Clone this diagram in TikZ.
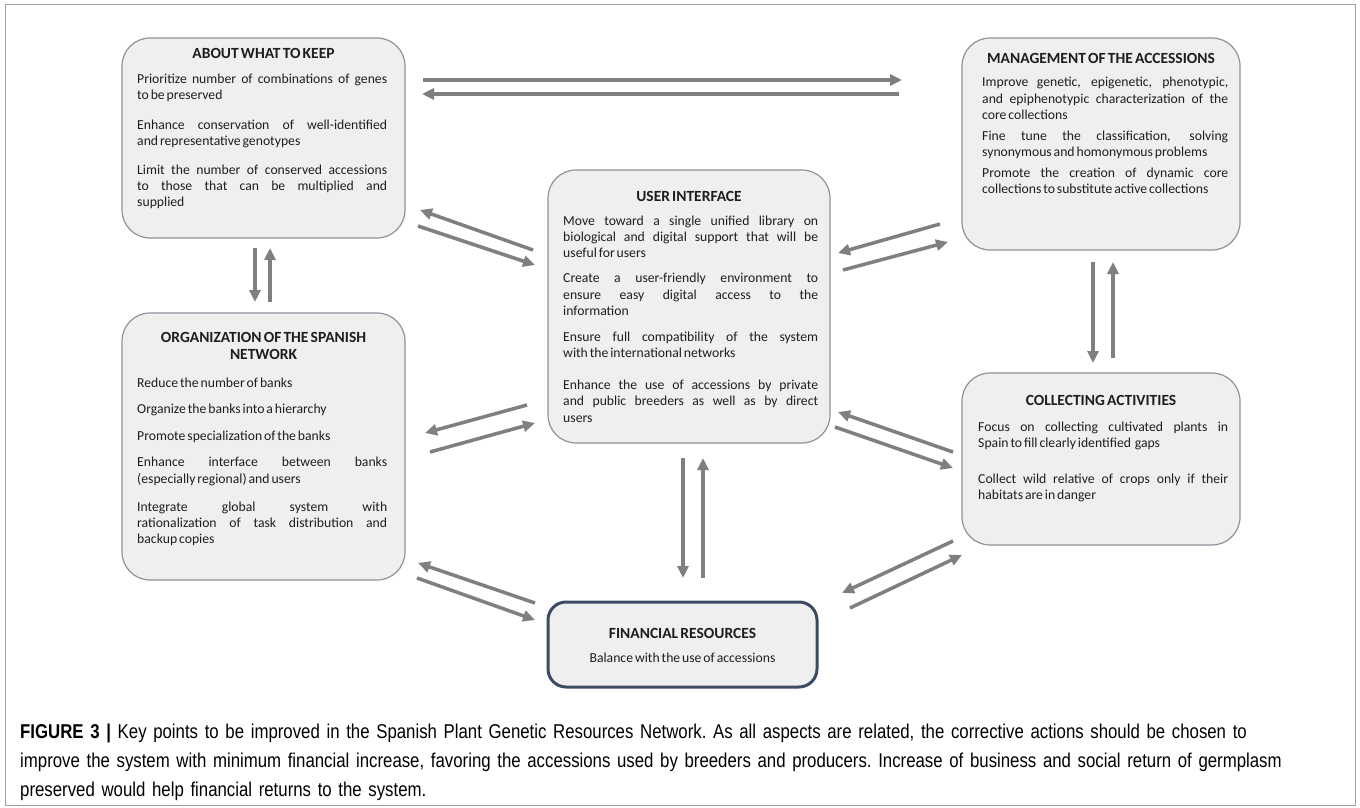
\documentclass[tikz,border=0pt]{standalone}
\usepackage{fontspec}
\setmainfont[WordSpace={0.62,2,1.2}]{Carlito}
\newfontfamily\capfont[FakeStretch=0.84]{Liberation Sans}
\usetikzlibrary{arrows.meta,calc}
\definecolor{boxfill}{HTML}{EFEFEF}
\definecolor{boxline}{HTML}{8C939C}
\definecolor{finline}{HTML}{3C4B63}
\definecolor{arrgray}{HTML}{7F7F7F}
\definecolor{txt}{HTML}{1E1E1E}
\definecolor{framegray}{HTML}{A0A0A0}
\newcommand{\pgap}[1]{\par\vspace{#1pt}}
\newcommand{\bodyset}{\hyphenpenalty=10000 \exhyphenpenalty=10000 \tolerance=10000 \relax}
\begin{document}
\begin{tikzpicture}[x=1pt,y=-1pt,
  box/.style={draw=boxline, fill=boxfill, rounded corners=28pt, line width=1.2pt, inner sep=0pt, outer sep=0pt},
  finbox/.style={box, draw=finline, line width=3pt, rounded corners=18pt},
  ttl/.style={font=\fontsize{15.5}{16.3}\selectfont\bfseries, text=txt, inner sep=0pt, align=center},
  body/.style={font=\fontsize{13.7}{16.3}\selectfont\bodyset, text=txt, inner sep=0pt, align=justify, anchor=base west},
  arr/.style={draw=arrgray, line width=3.5pt, -{Triangle[length=12pt,width=11pt]}}]
\useasboundingbox (0,0) rectangle (1360,808);
\fill[white] (0,0) rectangle (1360,808);
\draw[framegray, line width=1pt] (5,5) rectangle (1355,805);

% boxes
\node[box, minimum width=283pt, minimum height=200pt] (A) at (263.5,138) {};
\node[box, minimum width=278pt, minimum height=212pt] (M) at (1101,144) {};
\node[box, minimum width=282pt, minimum height=273pt] (U) at (689,306.5) {};
\node[box, minimum width=283pt, minimum height=267pt] (O) at (263.5,446.5) {};
\node[box, minimum width=278pt, minimum height=172pt] (C) at (1101,459) {};
\node[finbox, minimum width=269pt, minimum height=85pt] (F) at (682.5,644.5) {};

% titles
\node[ttl] (At) at (263.5,53) {ABOUT WHAT TO KEEP};
\node[ttl] (Mt) at (1101,58) {MANAGEMENT OF THE ACCESSIONS};
\node[ttl] (Ut) at (689,196) {USER INTERFACE};
\node[ttl] (Ot) at (263.5,346) {ORGANIZATION OF THE SPANISH\\NETWORK};
\node[ttl] (Ct) at (1101,400) {COLLECTING ACTIVITIES};
\node[ttl] (Ft) at (682.5,633) {FINANCIAL RESOURCES};

% bodies
\node[body, text width=250pt] (Ab) at (137,83) {Prioritize number of combinations of genes\linebreak to be preserved\pgap{13.5}
Enhance conservation of well-identified\linebreak and representative genotypes\pgap{12.5}
Limit the number of conserved accessions\linebreak to those that can be multiplied and\linebreak supplied};

\node[body, text width=246pt] (Mb) at (982,87) {Improve genetic, epigenetic, phenotypic,\linebreak and epiphenotypic characterization of the\linebreak core collections\pgap{4.5}
Fine tune the classification, solving\linebreak synonymous and homonymous problems\pgap{4.5}
Promote the creation of dynamic core\linebreak collections to substitute active collections};

\node[body, text width=255pt] (Ub) at (563,225) {Move toward a single unified library on\linebreak biological and digital support that will be\linebreak useful for users\pgap{9}
Create a user-friendly environment to\linebreak ensure easy digital access to the\linebreak information\pgap{9.5}
Ensure full compatibility of the system\linebreak with the international networks\pgap{15.5}
Enhance the use of accessions by private\linebreak and public breeders as well as by direct\linebreak users};

\node[body, text width=250pt] (Ob) at (137,387) {Reduce the number of banks\pgap{10.5}
Organize the banks into a hierarchy\pgap{10}
Promote specialization of the banks\pgap{10.5}
Enhance interface between banks\linebreak (especially regional) and users\pgap{11.5}
Integrate global system with\linebreak rationalization of task distribution and\linebreak backup copies};

\node[body, text width=250pt] (Cb) at (978,431) {Focus on collecting cultivated plants in\linebreak Spain to fill clearly identified\ \ gaps\pgap{19.5}
Collect wild relative of crops only if their\linebreak habitats are in danger};

\node[font=\fontsize{13.7}{16.3}\selectfont, text=txt, inner sep=0pt] (Fb) at (682.5,658) {Balance with the use of accessions};

% connectors
\draw[arr] ($(A.north east)+(18,42)$) -- ($(M.north west)+(-60,42)$);
\draw[arr] ($(M.north west)+(-63,56)$) -- ($(A.north east)+(17,56)$);
\draw[arr] ($(U.north west)+(-15,80)$) -- ($(A.south east)+(15,-28)$);
\draw[arr] ($(A.south east)+(13,-12)$) -- ($(U.north west)+(-13,95)$);
\draw[arr] ($(M.south west)+(-22,-26)$) -- ($(U.north east)+(8,83)$);
\draw[arr] ($(U.north east)+(13,100)$) -- ($(M.south west)+(-14,-8)$);
\draw[arr] ($(A.south)+(-8.5,10)$) -- ($(O.north)+(-8.5,-11)$);
\draw[arr] ($(O.north)+(6.5,-11)$) -- ($(A.south)+(6.5,10)$);
\draw[arr] ($(U.south west)+(-21,-38)$) -- ($(O.east)+(20,-13.5)$);
\draw[arr] ($(O.east)+(25,5.5)$) -- ($(U.south west)+(-13,-20)$);
\draw[arr] ($(M.south)+(-8,12)$) -- ($(C.north)+(-8,-10)$);
\draw[arr] ($(C.north)+(12,-15)$) -- ($(M.south)+(12,12)$);
\draw[arr] ($(C.west)+(-9,-7)$) -- ($(U.south east)+(8,-31)$);
\draw[arr] ($(U.south east)+(5,-16)$) -- ($(C.west)+(-9,9)$);
\draw[arr] ($(U.south)+(-6,15)$) -- ($(F.north)+(0.5,-24)$);
\draw[arr] ($(F.north)+(20.5,-24)$) -- ($(U.south)+(14,15)$);
\draw[arr] ($(F.north west)+(-13,1)$) -- ($(O.south east)+(13,-17)$);
\draw[arr] ($(O.south east)+(12,-2)$) -- ($(F.north west)+(-13,18)$);
\draw[arr] ($(C.south west)+(-9,-4)$) -- ($(F.north east)+(25,-9)$);
\draw[arr] ($(F.north east)+(33,6)$) -- ($(C.south west)+(0,10)$);

% caption
\node[anchor=base west, inner sep=0pt, align=left, text width=1335pt, text=black, font=\capfont\fontsize{20}{29}\selectfont\frenchspacing] (cap) at (20,738) {\textbf{FIGURE 3 |} Key points to be improved in the Spanish Plant Genetic Resources Network. As all aspects are related, the corrective actions should be chosen to\\
improve the system with minimum financial increase, favoring the accessions used by breeders and producers. Increase of business and social return of germplasm\\
preserved would help financial returns to the system.};
\end{tikzpicture}
\end{document}
